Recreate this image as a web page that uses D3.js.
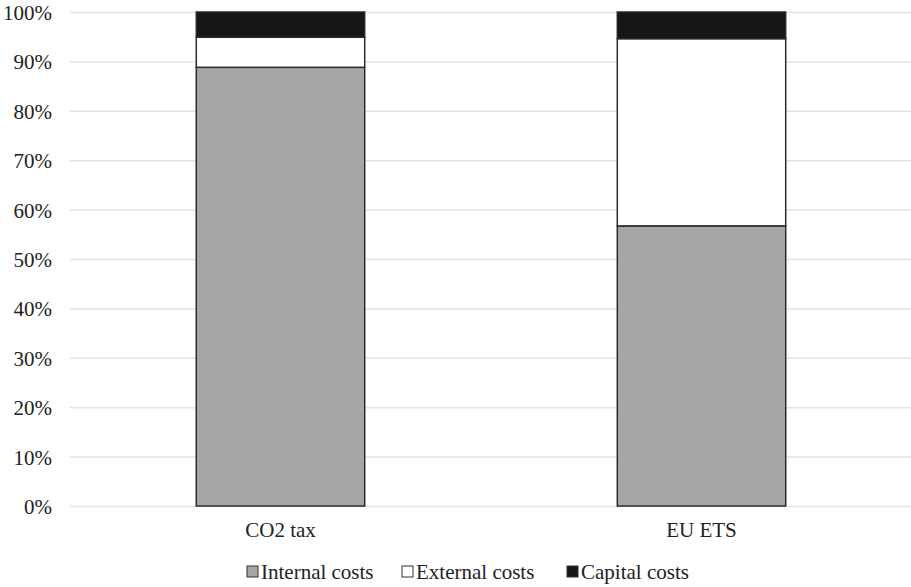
<!DOCTYPE html>
<html>
<head>
<meta charset="utf-8">
<script src="https://cdn.jsdelivr.net/npm/d3@7"></script>
<style>
  html, body { margin: 0; padding: 0; background: #fff; }
  svg { display: block; }
</style>
</head>
<body>
<svg id="chart" width="911" height="587"></svg>
<script>
// Cost shares by policy instrument (fractions of total, stacked to 100%)
const categories = ["CO2 tax", "EU ETS"];
const seriesNames = ["Internal costs", "External costs", "Capital costs"];
const internalCosts = [0.888, 0.567];
const externalCosts = [0.061, 0.379];
const capitalCosts  = [0.051, 0.054];
const yTicks = [0, 0.1, 0.2, 0.3, 0.4, 0.5, 0.6, 0.7, 0.8, 0.9, 1.0];
const colors = ["#a6a6a6", "#ffffff", "#161616"];

const TEXT_STYLE = 'font-family: "Liberation Serif", "Times New Roman", serif; font-size: 21px;';
const TEXT_COLOR = "#222";

const svg = d3.select("#chart");
const W = 911, H = 587;
const margin = { left: 70, right: 0, top: 12, bottom: 81 };

const x = d3.scaleBand()
  .domain(categories)
  .range([margin.left, W - margin.right + 1])
  .paddingInner(0.6)
  .paddingOuter(0.3);

const y = d3.scaleLinear()
  .domain([0, 1])
  .range([H - margin.bottom, margin.top]);

function styleText(sel) {
  sel.attr("style", TEXT_STYLE).attr("fill", TEXT_COLOR);
}

// gridlines + percentage labels
const gy = svg.append("g")
  .attr("transform", `translate(${margin.left},0)`)
  .call(d3.axisLeft(y)
    .tickValues(yTicks)
    .tickFormat(d3.format(".0%"))
    .tickSize(-(W - margin.left))
    .tickPadding(18))
  .attr("font-family", null)
  .attr("font-size", null);
gy.select(".domain").remove();
gy.selectAll(".tick line").attr("stroke", "#e3e3e3").attr("stroke-width", 1.5);
gy.selectAll(".tick text").call(styleText).attr("dy", "0.36em");

// stacked bars
const rows = categories.map((c, i) => ({
  category: c,
  "Internal costs": internalCosts[i],
  "External costs": externalCosts[i],
  "Capital costs": capitalCosts[i]
}));
const stacked = d3.stack().keys(seriesNames)(rows);

svg.append("g").selectAll("g")
  .data(stacked)
  .join("g")
  .attr("fill", (d, i) => colors[i])
  .selectAll("rect")
  .data(d => d)
  .join("rect")
  .attr("x", d => x(d.data.category))
  .attr("width", x.bandwidth())
  .attr("y", d => y(d[1]))
  .attr("height", d => y(d[0]) - y(d[1]))
  .attr("stroke", "#2a2a2a")
  .attr("stroke-width", 1.5);

// category labels
const gx = svg.append("g")
  .attr("transform", `translate(0,${H - margin.bottom})`)
  .call(d3.axisBottom(x).tickSize(0).tickPadding(16))
  .attr("font-family", null)
  .attr("font-size", null);
gx.select(".domain").remove();
gx.selectAll(".tick text").call(styleText);

// legend
const legendX = [247, 402, 567];
seriesNames.forEach((name, i) => {
  svg.append("rect")
    .attr("x", legendX[i]).attr("y", H - 21)
    .attr("width", 11).attr("height", 11)
    .attr("fill", colors[i])
    .attr("stroke", "#333").attr("stroke-width", 1);
  svg.append("text")
    .attr("x", legendX[i] + 14).attr("y", H - 8)
    .call(styleText)
    .text(name);
});
</script>
</body>
</html>
